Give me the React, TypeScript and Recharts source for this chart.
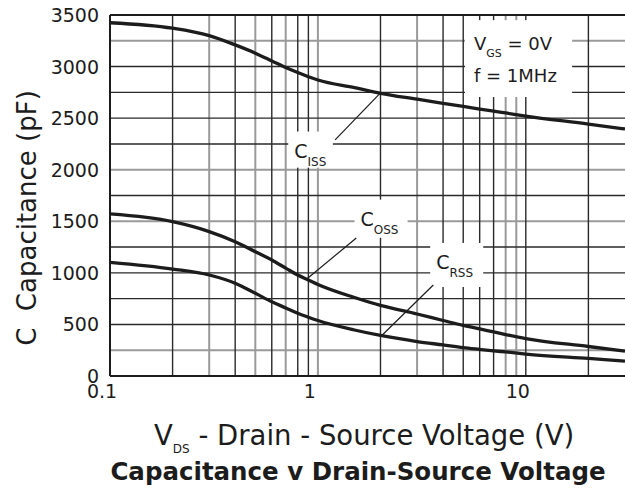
import React from "react";
import {
  LineChart,
  Line,
  XAxis,
  YAxis,
  ReferenceLine,
  ReferenceArea,
  Label,
} from "recharts";

// VDS (V) sample points
const voltage = [0.1, 0.2, 0.3, 0.4, 0.5, 0.6, 0.7, 0.8, 0.9, 1, 1.5, 2, 3, 4, 5, 6, 7, 8, 10, 20, 30];
// capacitances in pF
const ciss = [3425, 3372, 3300, 3210, 3130, 3055, 2991, 2942, 2902, 2870, 2795, 2741, 2684, 2644, 2613, 2588, 2567, 2550, 2519, 2443, 2395];
const coss = [1571, 1496, 1400, 1302, 1205, 1125, 1046, 979, 931, 887, 761, 684, 601, 538, 490, 456, 427, 402, 363, 286, 242];
const crss = [1102, 1037, 979, 899, 802, 720, 660, 608, 570, 538, 446, 393, 334, 301, 275, 258, 244, 233, 213, 170, 145];

const xTicks = [0.1, 1, 10];
const yTicks = [0, 500, 1000, 1500, 2000, 2500, 3000, 3500];

// grid: dark and light lines as printed
const xGridDark = [0.2, 0.4, 0.6, 0.8, 0.9, 2, 4, 5, 6, 7, 10, 20];
const xGridLight = [0.3, 0.5, 0.7, 1, 3, 8, 9];
const yGridDark = [500, 750, 1000, 1250, 1750, 2250, 2500, 2750, 3000];
const yGridLight = [250, 1500, 2000, 3250];

const data = voltage.map((v, i) => ({ v, ciss: ciss[i], coss: coss[i], crss: crss[i] }));

const INK = "#1c1c1c";
const FONT = "DejaVu Sans, Verdana, sans-serif";

const XTick = (props: any) => {
  const { x, y, payload } = props;
  return (
    <text x={x - 8} y={y + 14} textAnchor="middle" fontSize={19} fontFamily={FONT} fill={INK}>
      {payload.value}
    </text>
  );
};

const YTick = (props: any) => {
  const { x, y, payload } = props;
  return (
    <text x={x - 3} y={y + 7} textAnchor="end" fontSize={19} fontFamily={FONT} fill={INK}>
      {payload.value}
    </text>
  );
};

const XTitle = (props: any) => {
  const { viewBox } = props;
  const x0 = viewBox.x;
  const y0 = viewBox.y;
  return (
    <g fontFamily={FONT} fill={INK}>
      <text x={x0 + 44} y={y0 + 69} fontSize={27.5}>
        V<tspan fontSize={12} dy={8}>DS</tspan>
        <tspan dy={-8}> - Drain - Source Voltage (V)</tspan>
      </text>
      <text x={x0 + 248} y={y0 + 104} fontSize={24.5} fontWeight="bold" textAnchor="middle">
        Capacitance v Drain-Source Voltage
      </text>
    </g>
  );
};

const YTitle = () => (
  <text
    x={27}
    y={218}
    transform="rotate(-90 27 218)"
    textAnchor="middle"
    dominantBaseline="central"
    fontSize={26}
    fontFamily={FONT}
    fill={INK}
    style={{ whiteSpace: "pre" }}
  >
    {"C  Capacitance (pF)"}
  </text>
);

const subBox = (main: string, sub: string) => (p: any) => (
  <g>
    <rect x={p.x} y={p.y} width={p.width} height={p.height} fill="#fff" />
    <text x={p.x + 6} y={p.y + 26} fontSize={19} fontFamily={FONT} fill={INK}>
      {main}
      <tspan fontSize={12} dy={8}>{sub}</tspan>
    </text>
  </g>
);

const condBox = (p: any) => (
  <g fontFamily={FONT} fill={INK}>
    <rect x={p.x} y={p.y} width={p.width} height={p.height} fill="#fff" />
    <text x={p.x + 9} y={p.y + 30} fontSize={18}>
      V<tspan fontSize={11} dy={7}>GS</tspan>
      <tspan dy={-7}> = 0V</tspan>
    </text>
    <text x={p.x + 9} y={p.y + 62} fontSize={18}>
      f = 1MHz
    </text>
  </g>
);

export default function App() {
  return (
    <div style={{ position: "absolute", left: 0, top: 0, width: 625, height: 490, background: "#fff" }}>
      <LineChart
        width={625}
        height={490}
        data={data}
        margin={{ top: 15, right: 0, bottom: 84, left: 0 }}
      >
        {xGridLight.map((v) => (
          <ReferenceLine key={"xl" + v} x={v} stroke="#9a9a9a" strokeWidth={2} zIndex={40} />
        ))}
        {yGridLight.map((v) => (
          <ReferenceLine key={"yl" + v} y={v} stroke="#9a9a9a" strokeWidth={2} zIndex={40} />
        ))}
        {xGridDark.map((v) => (
          <ReferenceLine key={"xd" + v} x={v} stroke="#2a2a2a" strokeWidth={1.4} zIndex={50} />
        ))}
        {yGridDark.map((v) => (
          <ReferenceLine key={"yd" + v} y={v} stroke="#2a2a2a" strokeWidth={1.4} zIndex={50} />
        ))}
        <ReferenceLine y={3500} stroke={INK} strokeWidth={2} zIndex={60} />

        <ReferenceArea x1={5.1} x2={16.7} y1={2705} y2={3450} shape={condBox} zIndex={150} />
        <ReferenceArea x1={0.72} x2={1.18} y1={2020} y2={2370} shape={subBox("C", "ISS")} zIndex={150} />
        <ReferenceArea x1={1.5} x2={2.7} y1={1340} y2={1710} shape={subBox("C", "OSS")} zIndex={150} />
        <ReferenceArea x1={3.47} x2={6.24} y1={863} y2={1290} shape={subBox("C", "RSS")} zIndex={150} />

        <XAxis
          dataKey="v"
          type="number"
          scale="log"
          domain={[0.1, 30]}
          ticks={xTicks}
          allowDataOverflow
          tick={<XTick />}
          tickLine={false}
          axisLine={{ stroke: INK, strokeWidth: 2 }}
          height={30}
        >
          <Label content={<XTitle />} />
        </XAxis>
        <YAxis
          type="number"
          domain={[0, 3500]}
          ticks={yTicks}
          tick={<YTick />}
          tickLine={false}
          axisLine={{ stroke: INK, strokeWidth: 2 }}
          width={110}
        >
          <Label content={<YTitle />} />
        </YAxis>

        <Line type="monotone" dataKey="ciss" stroke={INK} strokeWidth={3.3} dot={false} isAnimationActive={false} />
        <Line type="monotone" dataKey="coss" stroke={INK} strokeWidth={3.3} dot={false} isAnimationActive={false} />
        <Line type="monotone" dataKey="crss" stroke={INK} strokeWidth={3.3} dot={false} isAnimationActive={false} />

        <ReferenceLine segment={[{ x: 1.21, y: 2290 }, { x: 2, y: 2745 }]} stroke={INK} strokeWidth={1.2} zIndex={450} />
        <ReferenceLine segment={[{ x: 1.53, y: 1338 }, { x: 0.89, y: 945 }]} stroke={INK} strokeWidth={1.2} zIndex={450} />
        <ReferenceLine segment={[{ x: 3.59, y: 882 }, { x: 2.04, y: 397 }]} stroke={INK} strokeWidth={1.2} zIndex={450} />
      </LineChart>
    </div>
  );
}
